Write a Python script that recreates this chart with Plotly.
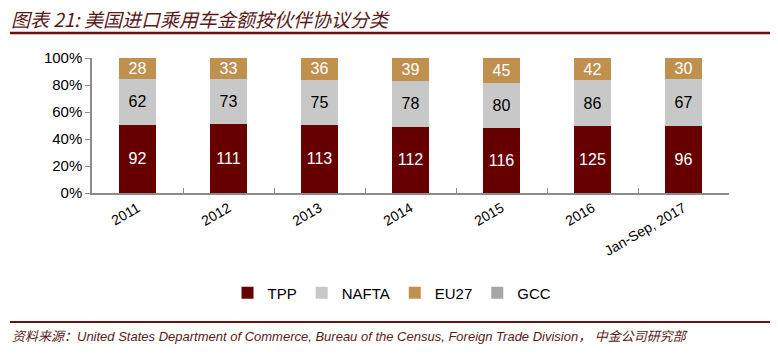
import plotly.graph_objects as go

categories = ["2011", "2012", "2013", "2014", "2015", "2016", "Jan-Sep, 2017"]
tpp = [92, 111, 113, 112, 116, 125, 96]
nafta = [62, 73, 75, 78, 80, 86, 67]
eu27 = [28, 33, 36, 39, 45, 42, 30]
gcc = [0, 0, 0, 0, 0, 0, 0]

series = [
    ("TPP", tpp, "#660000", "white"),
    ("NAFTA", nafta, "#C8C8C8", "black"),
    ("EU27", eu27, "#C0904F", "white"),
    ("GCC", gcc, "#A6A6A6", "black"),
]

fig = go.Figure()
for name, vals, color, tcol in series:
    fig.add_trace(go.Bar(
        name=name, x=categories, y=vals,
        marker=dict(color=color, line=dict(width=0)),
        text=[str(v) if v else "" for v in vals],
        textposition="inside", insidetextanchor="middle", textangle=0,
        constraintext="none",
        textfont=dict(color=tcol, size=16, family="Liberation Sans, Arial"),
        width=0.4,
    ))

L, R, T, B = 92, 49, 58, 161
W, H = 778, 354
pw, ph = W - L - R, H - T - B

def px_to_paper_x(px):
    return (px - L) / pw

def py_to_paper_y(py):
    return (H - B - py) / ph

dark = "#6B0F0F"
fig.update_layout(
    width=W, height=H,
    margin=dict(l=L, r=R, t=T, b=B),
    barmode="stack", barnorm="percent",
    plot_bgcolor="white", paper_bgcolor="white",
    font=dict(family="Liberation Sans, Arial", size=15, color="black"),
    showlegend=True,
    legend=dict(orientation="h", x=px_to_paper_x(392), xanchor="center",
                y=py_to_paper_y(293), yanchor="middle",
                font=dict(size=15), itemwidth=30, traceorder="normal",
                tracegroupgap=0),
    xaxis=dict(showline=True, linecolor="#8C8C8C", linewidth=1.5,
               ticks="inside", tickson="boundaries", ticklen=5, tickcolor="#8C8C8C",
               tickangle=-30, tickfont=dict(size=14),
               showgrid=False),
    yaxis=dict(range=[0, 100], dtick=20, ticksuffix="%", showline=True,
               linecolor="#8C8C8C", linewidth=1.5, ticks="outside", ticklen=5,
               tickcolor="#8C8C8C", showgrid=False, tickfont=dict(size=15)),
    shapes=[
        dict(type="line", xref="paper", yref="paper",
             x0=px_to_paper_x(10), x1=px_to_paper_x(770),
             y0=py_to_paper_y(33), y1=py_to_paper_y(33),
             line=dict(color=dark, width=2.5)),
        dict(type="line", xref="paper", yref="paper",
             x0=px_to_paper_x(10), x1=px_to_paper_x(770),
             y0=py_to_paper_y(322), y1=py_to_paper_y(322),
             line=dict(color=dark, width=2)),
    ],
    annotations=[
        dict(text="<i>图表 21: 美国进口乘用车金额按伙伴协议分类</i>", xref="paper", yref="paper",
             x=px_to_paper_x(9), y=py_to_paper_y(18), xanchor="left", yanchor="middle",
             showarrow=False,
             font=dict(family="Noto Sans CJK SC", size=19, color="#5A1A1A")),
        dict(text="<i>资料来源：United States Department of Commerce, Bureau of the Census, Foreign Trade Division， 中金公司研究部</i>",
             xref="paper", yref="paper",
             x=px_to_paper_x(10), y=py_to_paper_y(336), xanchor="left", yanchor="middle",
             showarrow=False,
             font=dict(family="Liberation Sans, Noto Sans CJK SC", size=13, color="#5A1A1A")),
    ],
)

fig.write_html("out.html")
